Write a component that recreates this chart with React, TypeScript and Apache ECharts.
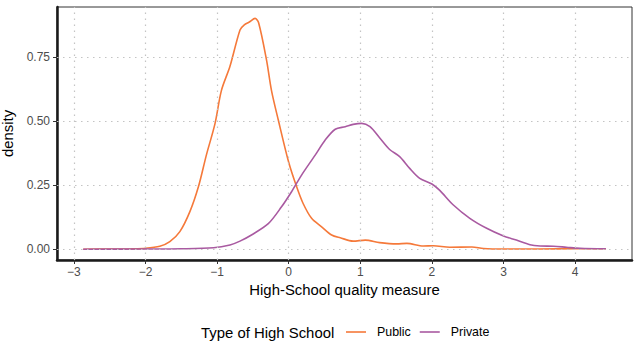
import React, { useEffect, useRef } from "react";
import * as echarts from "echarts";

const xTicks = [-3, -2, -1, 0, 1, 2, 3, 4];
const yTicks = [0, 0.25, 0.5, 0.75];

const publicX = [-2.87, -2.5, -2.2, -2.0, -1.8, -1.66, -1.52, -1.38, -1.26, -1.15, -1.03, -0.94, -0.82, -0.68, -0.62, -0.55, -0.47, -0.42, -0.31, -0.24, -0.145, 0.0, 0.11, 0.2, 0.32, 0.46, 0.6, 0.72, 0.9, 1.07, 1.27, 1.51, 1.65, 1.88, 2.02, 2.25, 2.56, 2.72, 3.0, 3.5, 4.0, 4.43];
const publicY = [0.0, 0.001, 0.002, 0.004, 0.012, 0.03, 0.069, 0.147, 0.245, 0.368, 0.49, 0.62, 0.715, 0.857, 0.877, 0.888, 0.902, 0.885, 0.74, 0.62, 0.505, 0.34, 0.245, 0.18, 0.121, 0.088, 0.056, 0.045, 0.032, 0.036, 0.026, 0.021, 0.023, 0.013, 0.014, 0.008, 0.009, 0.003, 0.001, 0.001, 0.002, 0.002];

const privateX = [-2.87, -2.0, -1.5, -1.05, -0.82, -0.68, -0.52, -0.285, -0.1, 0.04, 0.18, 0.37, 0.51, 0.65, 0.79, 0.9, 1.02, 1.135, 1.275, 1.41, 1.55, 1.69, 1.83, 2.0, 2.11, 2.3, 2.53, 2.765, 3.0, 3.18, 3.37, 3.51, 3.7, 3.88, 4.07, 4.43];
const privateY = [0.0, 0.001, 0.002, 0.006, 0.017, 0.032, 0.056, 0.1, 0.166, 0.225, 0.29, 0.368, 0.427, 0.469, 0.479, 0.488, 0.492, 0.479, 0.434, 0.39, 0.362, 0.316, 0.277, 0.255, 0.23, 0.173, 0.121, 0.082, 0.052, 0.036, 0.018, 0.013, 0.012, 0.008, 0.004, 0.002];

const seriesNames = ["Public", "Private"];
const colors = ["#F5793A", "#A95AA1"];

const FONT = "'Liberation Sans', Arial, Helvetica, sans-serif";

export default function App() {
  const ref = useRef<HTMLDivElement>(null);
  useEffect(() => {
    if (!ref.current) return;
    const chart = echarts.init(ref.current, null, { renderer: "svg" });
    const gridLine = { color: "#c4c4c4", width: 1.2, type: [1.5, 4.5] };
    chart.setOption({
      animation: false,
      textStyle: { fontFamily: FONT },
      grid: {
        left: 57, right: 7, top: 7, bottom: 100,
        containLabel: false, outerBoundsMode: "none",
        show: true, borderColor: "#333", borderWidth: 1,
      },
      xAxis: {
        type: "value",
        min: -3.236,
        max: 4.795,
        name: "High-School quality measure",
        nameLocation: "middle",
        nameGap: 20,
        nameTextStyle: { fontSize: 14.9, color: "#000", fontFamily: FONT },
        axisLine: { show: true, onZero: false, lineStyle: { color: "#1a1a1a", width: 2.5 } },
        axisTick: { show: true, length: 4, customValues: xTicks, lineStyle: { color: "#333", width: 1 } },
        axisLabel: {
          customValues: xTicks,
          margin: 6,
          fontSize: 12,
          color: "#4d4d4d",
          fontFamily: FONT,
          formatter: (v: number) => (v < 0 ? "\u2212" + Math.abs(v) : String(v)),
        },
        splitLine: { show: false },
      },
      yAxis: {
        type: "value",
        min: -0.0418,
        max: 0.9465,
        name: "density",
        nameLocation: "middle",
        nameGap: 35,
        nameRotate: 90,
        nameTextStyle: { fontSize: 14.9, color: "#000", fontFamily: FONT },
        axisLine: { show: true, onZero: false, lineStyle: { color: "#1a1a1a", width: 2.5 } },
        axisTick: { show: true, length: 4, customValues: yTicks, lineStyle: { color: "#333", width: 1 } },
        axisLabel: {
          customValues: yTicks,
          margin: 7,
          fontSize: 12,
          color: "#4d4d4d",
          fontFamily: FONT,
          formatter: (v: number) => v.toFixed(2),
        },
        splitLine: { show: false },
      },
      legend: {
        data: seriesNames.map((n, i) => ({ name: n, icon: "rect", itemStyle: { color: colors[i] } })),
        left: 346,
        top: 326,
        padding: 0,
        itemWidth: 20,
        itemHeight: 1.6,
        itemGap: 9,
        textStyle: { fontSize: 12.4, color: "#000", fontFamily: FONT, padding: [0, 0, 0, 6] },
      },
      graphic: [
        {
          type: "text",
          left: 201,
          top: 325,
          style: { text: "Type of High School", fontSize: 14.9, fill: "#000", fontFamily: FONT },
        },
      ],
      series: [
        {
          name: "grid",
          type: "line",
          data: [],
          z: 1,
          silent: true,
          markLine: {
            silent: true,
            symbol: ["none", "none"],
            label: { show: false },
            emphasis: { disabled: true },
            lineStyle: gridLine,
            data: [
              ...xTicks.map((v) => ({ xAxis: v })),
              ...yTicks.map((v) => ({ yAxis: v })),
            ],
          },
        },
        ...seriesNames.map((name, i) => ({
          name,
          type: "line",
          z: 3,
          smooth: 0.3,
          symbol: "none",
          showSymbol: false,
          color: colors[i],
          lineStyle: { color: colors[i], width: 1.6 },
          data: (i === 0 ? publicX : privateX).map((x, j) => [x, (i === 0 ? publicY : privateY)[j]]),
        })),
      ],
    });
    return () => chart.dispose();
  }, []);
  return <div ref={ref} style={{ position: "fixed", left: 0, top: 0, width: 639, height: 360, background: "#fff" }} />;
}
